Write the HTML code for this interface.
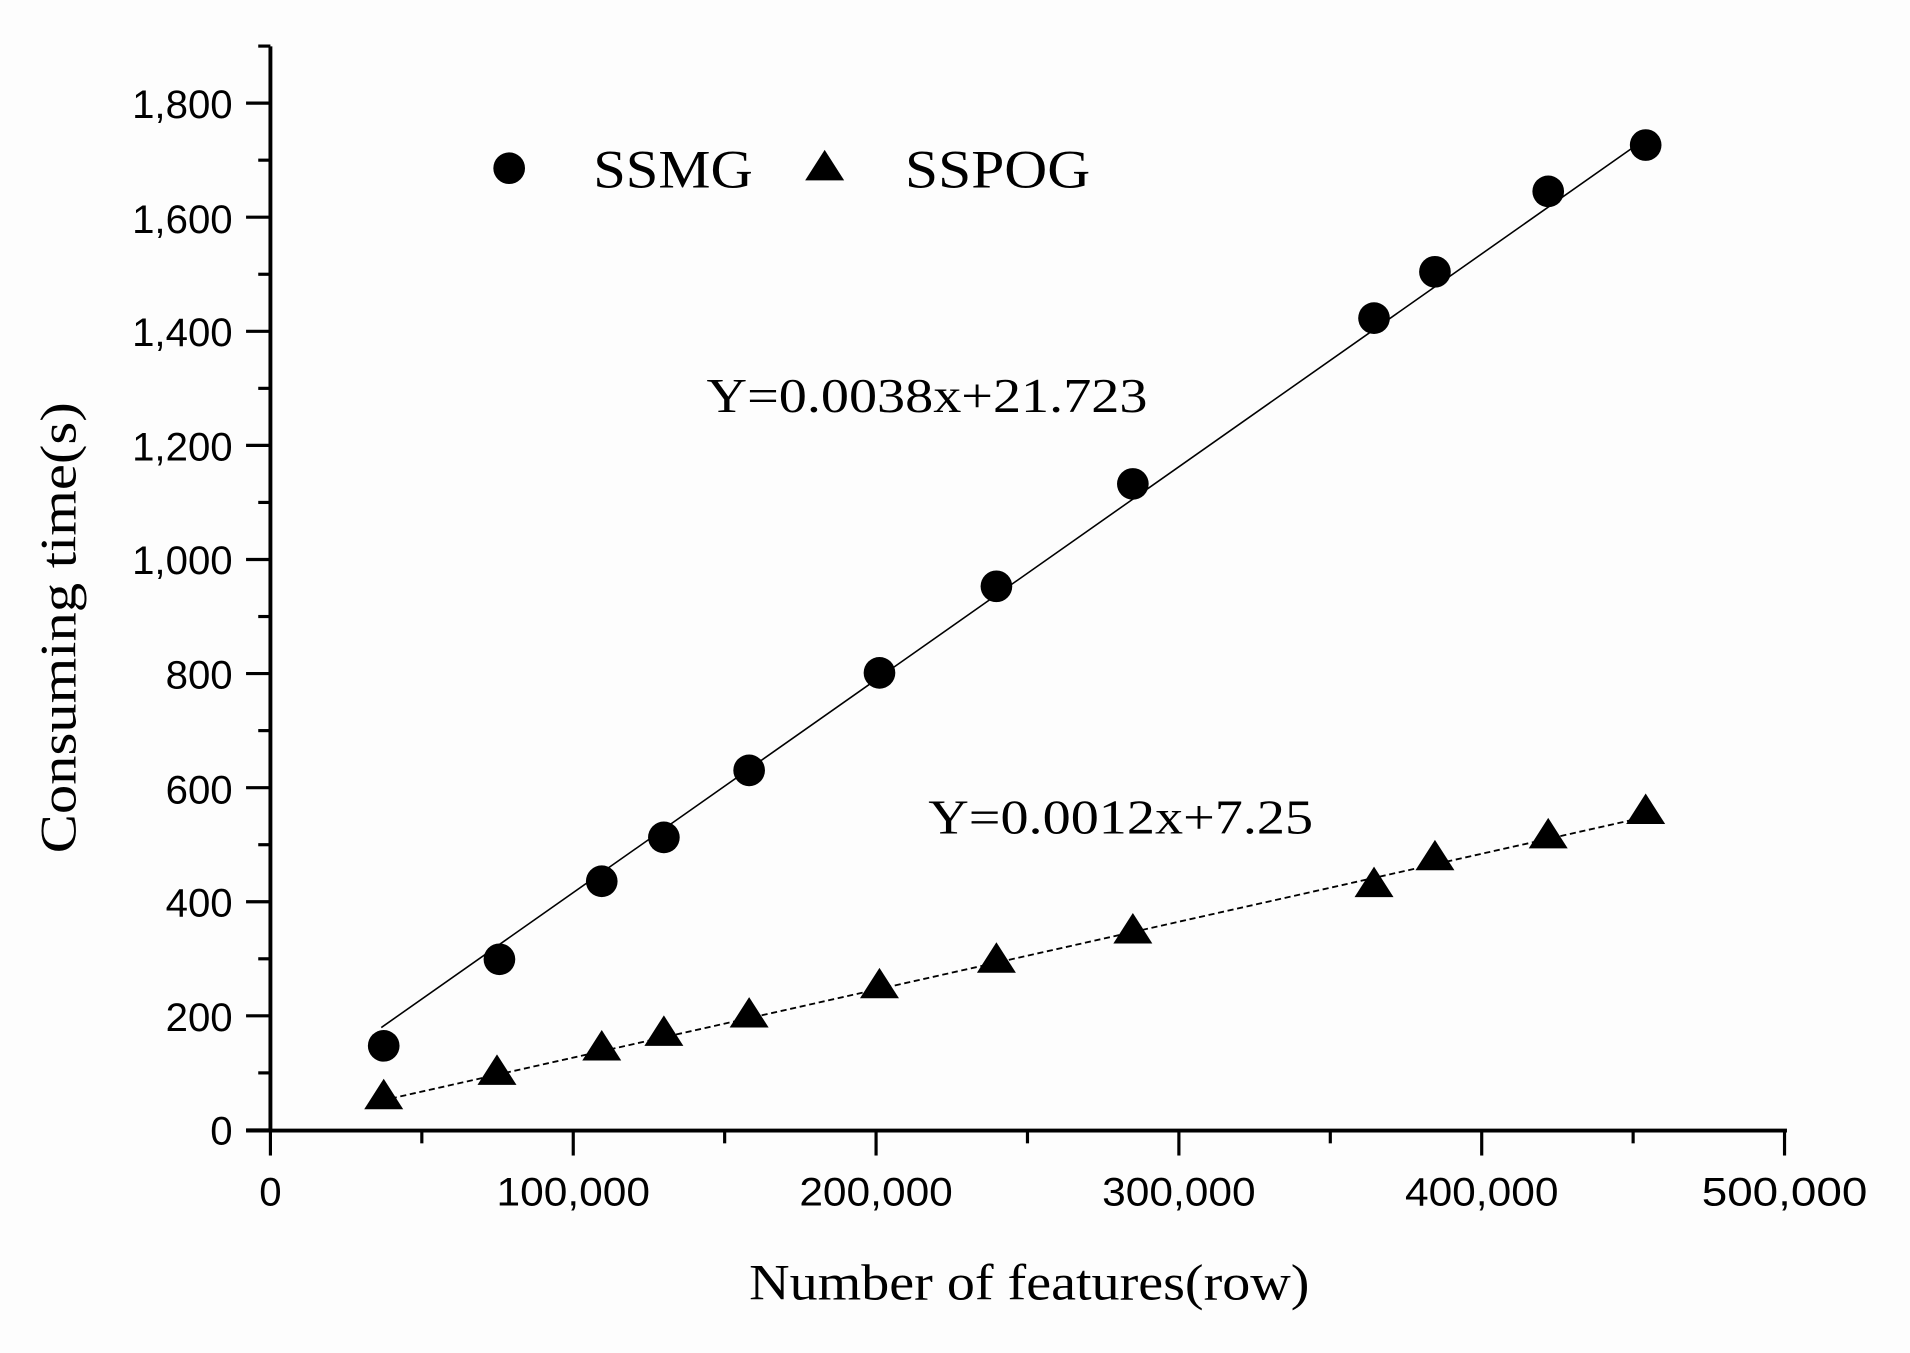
<!DOCTYPE html>
<html><head><meta charset="utf-8"><style>
html,body{margin:0;padding:0;background:#fdfdfd}
svg{display:block}
text{font-family:"Liberation Sans",sans-serif;fill:#000}
.serif{font-family:"Liberation Serif",serif}
</style></head><body>
<svg width="1910" height="1353" viewBox="0 0 1568 1110" preserveAspectRatio="none" xmlns="http://www.w3.org/2000/svg">
<rect width="1568" height="1110" fill="#fdfdfd"/>
<g stroke="#000" stroke-width="3.2" fill="none">
<line x1="222" y1="38" x2="222" y2="929"/>
<line x1="202" y1="927.5" x2="1467" y2="927.5"/>
</g>
<g stroke="#000" stroke-width="2.6">
<line x1="202" y1="927" x2="222" y2="927"/><line x1="202" y1="833.4" x2="222" y2="833.4"/>
<line x1="202" y1="739.8" x2="222" y2="739.8"/><line x1="202" y1="646.2" x2="222" y2="646.2"/>
<line x1="202" y1="552.6" x2="222" y2="552.6"/><line x1="202" y1="459" x2="222" y2="459"/>
<line x1="202" y1="365.4" x2="222" y2="365.4"/><line x1="202" y1="271.8" x2="222" y2="271.8"/>
<line x1="202" y1="178.2" x2="222" y2="178.2"/><line x1="202" y1="84.6" x2="222" y2="84.6"/>
<line x1="212" y1="880.2" x2="222" y2="880.2"/><line x1="212" y1="786.6" x2="222" y2="786.6"/>
<line x1="212" y1="693" x2="222" y2="693"/><line x1="212" y1="599.4" x2="222" y2="599.4"/>
<line x1="212" y1="505.8" x2="222" y2="505.8"/><line x1="212" y1="412.2" x2="222" y2="412.2"/>
<line x1="212" y1="318.6" x2="222" y2="318.6"/><line x1="212" y1="225" x2="222" y2="225"/>
<line x1="212" y1="131.4" x2="222" y2="131.4"/><line x1="212" y1="37.8" x2="222" y2="37.8"/>
<line x1="222" y1="927" x2="222" y2="948"/><line x1="470.6" y1="927" x2="470.6" y2="948"/>
<line x1="719.2" y1="927" x2="719.2" y2="948"/><line x1="967.8" y1="927" x2="967.8" y2="948"/>
<line x1="1216.4" y1="927" x2="1216.4" y2="948"/><line x1="1465" y1="927" x2="1465" y2="948"/>
<line x1="346.3" y1="927" x2="346.3" y2="938"/><line x1="594.9" y1="927" x2="594.9" y2="938"/>
<line x1="843.5" y1="927" x2="843.5" y2="938"/><line x1="1092.1" y1="927" x2="1092.1" y2="938"/>
<line x1="1340.7" y1="927" x2="1340.7" y2="938"/>
</g>
<g font-size="33" text-anchor="end">
<text x="191" y="939">0</text><text x="191" y="846">200</text><text x="191" y="752">400</text>
<text x="191" y="659">600</text><text x="191" y="565">800</text><text x="191" y="471">1,000</text>
<text x="191" y="378">1,200</text><text x="191" y="284">1,400</text><text x="191" y="191">1,600</text>
<text x="191" y="97">1,800</text>
</g>
<g font-size="33" text-anchor="middle">
<text x="222" y="989">0</text><text x="470.6" y="989" textLength="126" lengthAdjust="spacingAndGlyphs">100,000</text><text x="719.2" y="989" textLength="126" lengthAdjust="spacingAndGlyphs">200,000</text>
<text x="967.8" y="989" textLength="126" lengthAdjust="spacingAndGlyphs">300,000</text><text x="1216.4" y="989" textLength="126" lengthAdjust="spacingAndGlyphs">400,000</text><text x="1465" y="989" textLength="136" lengthAdjust="spacingAndGlyphs">500,000</text>
</g>
<text class="serif" x="615" y="1066" font-size="42" textLength="460" lengthAdjust="spacingAndGlyphs">Number of features(row)</text>
<text class="serif" transform="translate(62,700) rotate(-90)" font-size="42" textLength="370" lengthAdjust="spacingAndGlyphs">Consuming time(s)</text>
<line x1="313" y1="843" x2="1352" y2="113" stroke="#000" stroke-width="1.3"/>
<line x1="313" y1="903" x2="1352" y2="670" stroke="#000" stroke-width="1.5" stroke-dasharray="5,3"/>
<g fill="#000">
<circle cx="315" cy="858" r="13"/><circle cx="410" cy="787" r="13"/><circle cx="494" cy="723" r="13"/>
<circle cx="545" cy="687" r="13"/><circle cx="615" cy="632" r="13"/><circle cx="722" cy="552" r="13"/>
<circle cx="818" cy="481" r="13"/><circle cx="930" cy="397" r="13"/><circle cx="1128" cy="261" r="13"/>
<circle cx="1178" cy="223" r="13"/><circle cx="1271" cy="157" r="13"/><circle cx="1351" cy="119" r="13"/>
<circle cx="418" cy="138" r="13"/>
</g>
<g fill="#000">
<path d="M315,885 l-16,25 h32z"/><path d="M408,865 l-16,25 h32z"/><path d="M494,845 l-16,25 h32z"/>
<path d="M545,833 l-16,25 h32z"/><path d="M615,818 l-16,25 h32z"/><path d="M722,794 l-16,25 h32z"/>
<path d="M818,773 l-16,25 h32z"/><path d="M930,749 l-16,25 h32z"/><path d="M1128,711 l-16,25 h32z"/>
<path d="M1178,689 l-16,25 h32z"/><path d="M1271,671 l-16,25 h32z"/><path d="M1351,651 l-16,25 h32z"/>
<path d="M677,123 l-16,25 h32z"/>
</g>
<text class="serif" x="487" y="154" font-size="44" textLength="131" lengthAdjust="spacingAndGlyphs">SSMG</text>
<text class="serif" x="743" y="154" font-size="44" textLength="152" lengthAdjust="spacingAndGlyphs">SSPOG</text>
<text class="serif" x="580" y="338" font-size="40" textLength="362" lengthAdjust="spacingAndGlyphs">Y=0.0038x+21.723</text>
<text class="serif" x="762" y="684" font-size="40" textLength="316" lengthAdjust="spacingAndGlyphs">Y=0.0012x+7.25</text>
</svg>
</body></html>
